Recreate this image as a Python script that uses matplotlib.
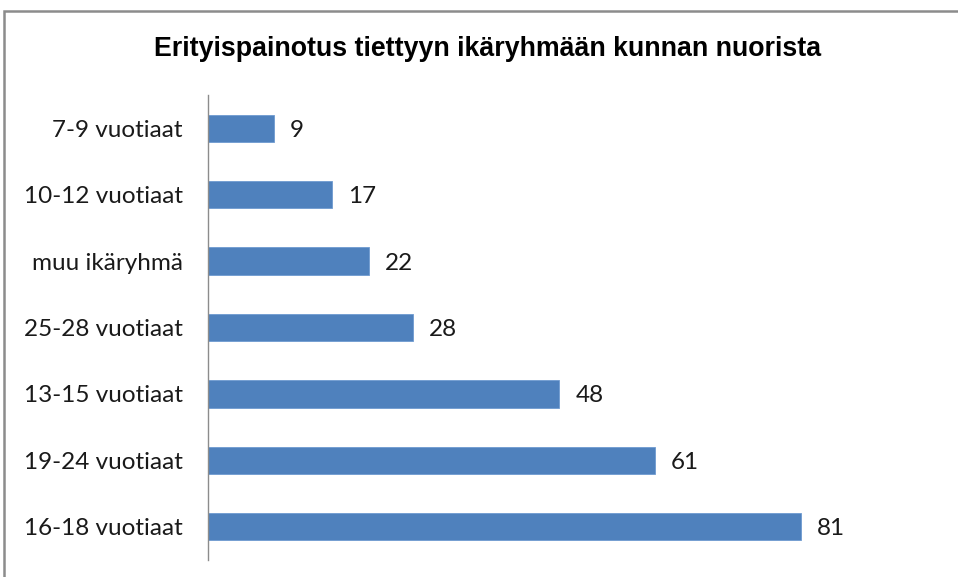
import matplotlib
matplotlib.use("Agg")
import matplotlib.pyplot as plt
from matplotlib.patches import Rectangle

TITLE = "Erityispainotus tiettyyn ikäryhmään kunnan nuorista"
CATEGORIES = [
    "7-9 vuotiaat",
    "10-12 vuotiaat",
    "muu ikäryhmä",
    "25-28 vuotiaat",
    "13-15 vuotiaat",
    "19-24 vuotiaat",
    "16-18 vuotiaat",
]
VALUES = [9, 17, 22, 28, 48, 61, 81]

LABEL_FONT = ["Lato", "DejaVu Sans"]

W, H = 958, 577
fig = plt.figure(figsize=(W / 100, H / 100), dpi=100)
fig.patch.set_facecolor("white")

# outer chart frame (cropped on the right and bottom)
fig.add_artist(Rectangle((4 / W, -0.1), 1.2, 1 - 11 / H + 0.1, transform=fig.transFigure,
                         fill=False, edgecolor="#8c8c8c", linewidth=1.8))

ax = fig.add_axes([208 / W, 1 - 560 / H, (940 - 208) / W, (560 - 95) / H])
pos = list(range(len(CATEGORIES)))
ax.barh(pos, VALUES, height=0.41, color="#4f81bd", edgecolor="#6f9ad0", linewidth=0.6)
ax.set_ylim(len(CATEGORIES) - 0.5, -0.5)
ax.set_xlim(0, 100)
ax.set_yticks(pos)
ax.set_yticklabels(CATEGORIES, family=LABEL_FONT, fontsize=17.5, color="#1a1a1a")
ax.tick_params(axis="y", length=0, pad=18)
ax.set_xticks([])
for side in ("top", "right", "bottom"):
    ax.spines[side].set_visible(False)
ax.spines["left"].set_color("#8c8c8c")
ax.spines["left"].set_linewidth(1.0)

for p, v in zip(pos, VALUES):
    ax.annotate(str(v), (v, p), xytext=(16, -2), textcoords="offset pixels", va="center", ha="left",
                family=LABEL_FONT, fontsize=17.5, color="#1a1a1a")

fig.text(488 / W, 1 - 49 / H, TITLE, ha="center", va="center", fontsize=19.3, fontweight="bold",
         family=["Liberation Sans", "DejaVu Sans"], color="black")

fig.savefig("out.png", dpi=100)
